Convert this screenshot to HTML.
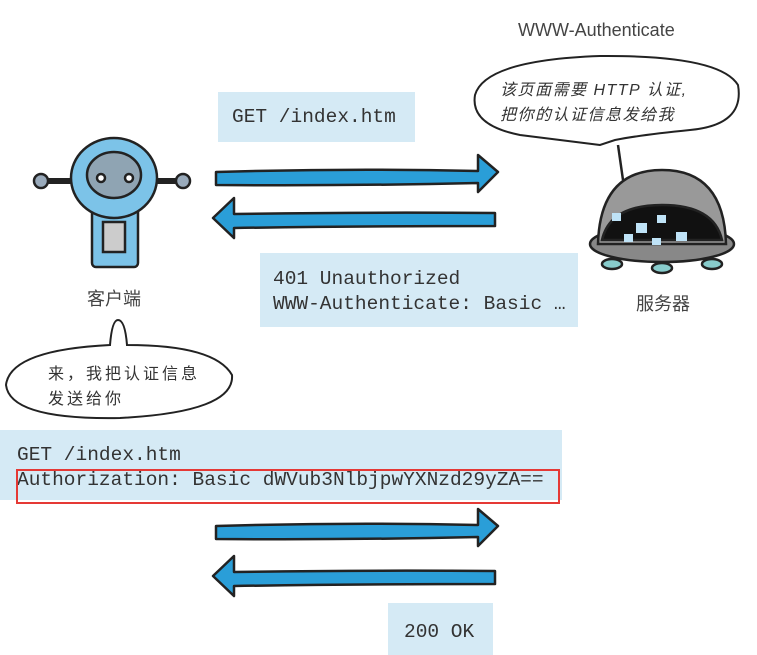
<!DOCTYPE html>
<html><head><meta charset="utf-8"><style>
body{margin:0;width:757px;height:655px;background:#fff;position:relative;overflow:hidden;font-family:"Liberation Sans","Noto Sans CJK SC",sans-serif}
.box{position:absolute;background:#d5eaf5;font-family:"Liberation Mono",monospace;font-size:19.5px;color:#333;line-height:25px;white-space:nowrap}
.t{position:absolute;color:#444;white-space:nowrap}
</style></head><body>
<svg width="757" height="655" style="position:absolute;left:0;top:0">
<path d="M216,172 Q350,168 478,171 L478,155 L498,172 L478,192 L478,183 Q350,186 216,185 Z" fill="#2a9ed8" stroke="#222" stroke-width="2.5" stroke-linejoin="round"/>
<path d="M495,213 Q360,212 234,214 L234,198 L213,218 L234,238 L234,228 Q360,226 495,226 Z" fill="#2a9ed8" stroke="#222" stroke-width="2.5" stroke-linejoin="round"/>
<path d="M216,526 Q350,522 478,525 L478,509 L498,526 L478,546 L478,537 Q350,540 216,539 Z" fill="#2a9ed8" stroke="#222" stroke-width="2.5" stroke-linejoin="round"/>
<path d="M495,571 Q360,570 234,572 L234,556 L213,576 L234,596 L234,586 Q360,584 495,584 Z" fill="#2a9ed8" stroke="#222" stroke-width="2.5" stroke-linejoin="round"/>
<g stroke="#222" stroke-width="2.5">
<rect x="92" y="205" width="46" height="62" rx="4" fill="#7cc3e8"/>
<rect x="103" y="222" width="22" height="30" fill="#ccc"/>
<line x1="45" y1="181" x2="180" y2="181" stroke-width="6"/>
<circle cx="41" cy="181" r="7" fill="#9ab"/>
<circle cx="183" cy="181" r="7" fill="#9ab"/>
<ellipse cx="114" cy="178" rx="43" ry="40" fill="#7cc3e8"/>
<ellipse cx="114" cy="175" rx="27" ry="23" fill="#8fa4b3"/>
<circle cx="101" cy="178" r="4" fill="#fff"/><circle cx="129" cy="178" r="4" fill="#fff"/>
</g>
<g stroke="#222" stroke-width="2.5">
<ellipse cx="662" cy="244" rx="72" ry="18" fill="#888"/>
<path d="M598,244 Q600,170 662,170 Q724,170 726,244 Z" fill="#999"/>
<path d="M602,240 Q610,205 662,205 Q714,205 722,240 Z" fill="#111"/>
<ellipse cx="612" cy="264" rx="10" ry="5" fill="#8cc"/><ellipse cx="662" cy="268" rx="10" ry="5" fill="#8cc"/><ellipse cx="712" cy="264" rx="10" ry="5" fill="#8cc"/>
<line x1="623" y1="180" x2="618" y2="145"/>
</g>
<g fill="#bfe3f7"><rect x="612" y="213" width="9" height="8"/><rect x="636" y="223" width="11" height="10"/><rect x="657" y="215" width="9" height="8"/><rect x="676" y="232" width="11" height="9"/><rect x="624" y="234" width="9" height="8"/><rect x="652" y="238" width="9" height="7"/></g>
<path d="M600,145 Q560,140 520,135 Q470,125 475,95 Q485,60 600,56 Q720,55 738,85 Q745,125 690,130 Q640,135 615,140 Z" fill="#fff" stroke="#222" stroke-width="2"/>
<path d="M110,345 Q112,320 118,320 Q125,320 127,345 Q215,345 232,375 Q235,412 120,418 Q10,420 6,385 Q10,350 110,345 Z" fill="#fff" stroke="#222" stroke-width="2"/>
</svg>
<div class="t" style="left:518px;top:20px;font-size:18px">WWW-Authenticate</div>
<div class="t" style="left:500px;top:78px;font-size:16px;line-height:25px;letter-spacing:1.5px;font-style:italic;color:#333">该页面需要 HTTP 认证,<br>把你的认证信息发给我</div>
<div class="t" style="left:48px;top:362px;font-size:16px;line-height:25px;letter-spacing:3px;color:#333">来，我把认证信息<br>发送给你</div>
<div class="t" style="left:87px;top:285px;font-size:18px">客户端</div>
<div class="t" style="left:636px;top:290px;font-size:18px">服务器</div>
<div class="box" style="left:218px;top:92px;width:197px;height:50px;padding:13px 0 0 14px;box-sizing:border-box">GET /index.htm</div>
<div class="box" style="left:260px;top:253px;width:318px;height:74px;padding:14px 0 0 13px;box-sizing:border-box">401 Unauthorized<br>WWW-Authenticate: Basic …</div>
<div class="box" style="left:0;top:430px;width:562px;height:70px;padding:13px 0 0 17px;box-sizing:border-box">GET /index.htm<br>Authorization: Basic dWVub3NlbjpwYXNzd29yZA==</div>
<div style="position:absolute;left:16px;top:469px;width:540px;height:31px;border:2px solid #e53935"></div>
<div class="box" style="left:388px;top:603px;width:105px;height:52px;padding:17px 0 0 16px;box-sizing:border-box">200 OK</div>
</body></html>
